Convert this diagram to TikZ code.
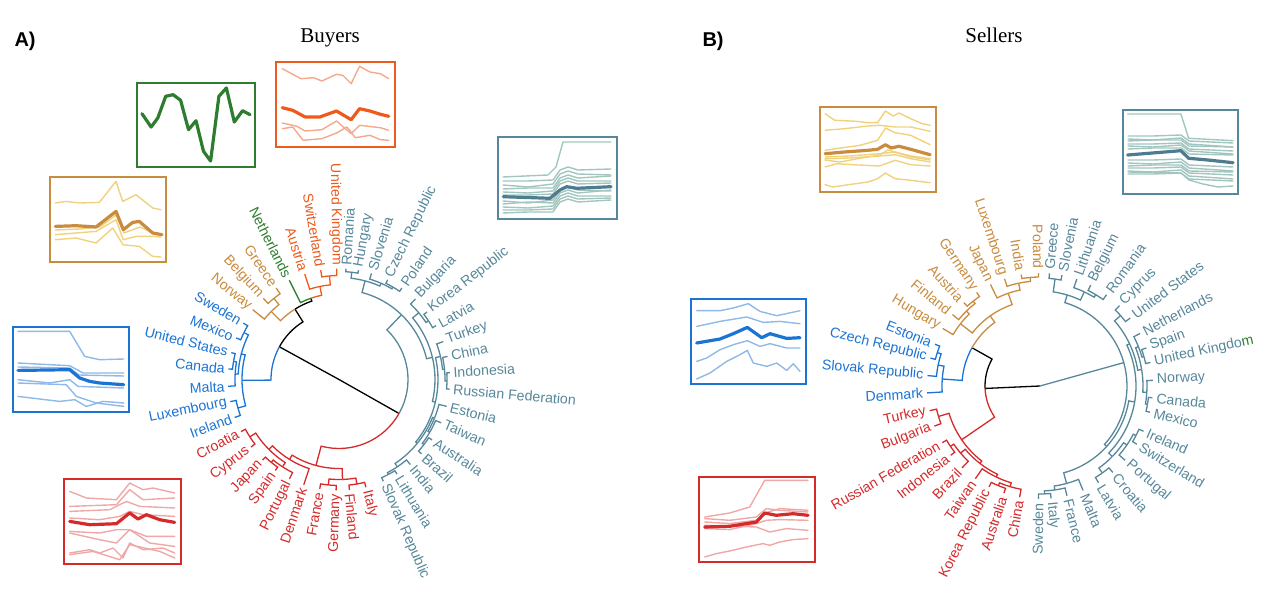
\documentclass[tikz,border=0pt]{standalone}
\usepackage{fontspec}
\setmainfont{Liberation Serif}
\setsansfont{Liberation Sans}
\definecolor{cteal}{HTML}{56879A}
\definecolor{ctealdk}{HTML}{4E7B90}
\definecolor{cteallt}{HTML}{A2C6BF}
\definecolor{cred}{HTML}{D42A2A}
\definecolor{credlt}{HTML}{EFA7A7}
\definecolor{cblue}{HTML}{1B74D4}
\definecolor{cbluelt}{HTML}{8EB9E8}
\definecolor{ctan}{HTML}{C98B3E}
\definecolor{ctanlt}{HTML}{F1D27C}
\definecolor{corange}{HTML}{EE5A1C}
\definecolor{corangelt}{HTML}{F5A88B}
\definecolor{cgreen}{HTML}{2E7D2E}
\tikzset{
  lnk/.style={line width=1.3pt},
  lbl/.style={font=\sffamily\fontsize{14.2}{14.2}\selectfont, inner sep=0.5pt},
  frame/.style={line width=2pt},
  ln/.style={line width=1.4pt, line join=round, line cap=round},
  mainln/.style={line width=3.2pt, line join=round, line cap=round},
}
\newcommand\lk[5]{\draw[lnk,#1] (#3:#2) arc[start angle=#3,end angle=#4,radius=#2] -- (#4:#5);}
\newcommand\nd[4]{\foreach \ac/\rc in {#4}{\lk{#1}{#2}{#3}{\ac}{\rc}}}
\newcounter{lb}
\newcommand\lab[3]{\stepcounter{lb}\pgfmathtruncatemacro\side{cos(#1)>0}%
  \ifnum\side=1 \node[lbl,text=#2,rotate=#1,anchor=west] (lb\thelb) at (#1:\RT) {#3};%
  \else \node[lbl,text=#2,rotate=#1+180,anchor=east] (lb\thelb) at (#1:\RT) {#3};\fi}
\newcommand\inset[6]{%
  \begin{scope}[shift={(#1,590-#2)},yscale=-1]
  #6
  \draw[frame,#5] (0,0) rectangle (#3,#4);
  \end{scope}}
\begin{document}
\begin{tikzpicture}[x=1pt,y=1pt]
\useasboundingbox (0,0) rectangle (1283,590);
% titles
\node[font=\fontsize{21}{21}\selectfont,anchor=base] (tA) at (330,547) {Buyers};
\node[font=\fontsize{21}{21}\selectfont,anchor=base] (tB) at (994,547) {Sellers};
\node[font=\sffamily\bfseries\fontsize{20}{20}\selectfont,anchor=base west] (pA) at (11,543) {A)};
\node[font=\sffamily\bfseries\fontsize{20}{20}\selectfont,anchor=base west] (pB) at (699,543) {B)};

% ================= LEFT TREE =================
\begin{scope}[shift={(339,210.5)}]
\def\RL{111}\def\RT{114}
\draw[lnk,black] (151.25:68) -- (0,0) -- (-29.5:69);
\nd{black}{68}{151.25}{122/83}
\nd{cblue}{68}{151.25}{180.5/97}
\nd{ctan}{83}{122}{134.9/96}
\nd{black}{83}{122}{109.1/86}
\nd{cgreen}{86}{109.1}{116.6/\RL}
\nd{corange}{86}{109.1}{101.6/95}
\nd{corange}{95}{101.6}{108/\RL,95.25/104}
\nd{corange}{104}{95.25}{99.5/\RL,91.2/\RL}
\nd{ctan}{96}{134.9}{141/\RL,128.75/104}
\nd{ctan}{104}{128.75}{133/\RL,124.5/\RL}
\nd{cblue}{97}{180.5}{165.3/101,195.75/105}
\nd{cblue}{101}{165.3}{153.75/106,176.9/104}
\nd{cblue}{106}{153.75}{149.5/\RL,158/\RL}
\nd{cblue}{104}{176.9}{170.25/107,183.5/\RL}
\nd{cblue}{107}{170.25}{166/\RL,174.5/\RL}
\nd{cblue}{105}{195.75}{191.5/\RL,200/\RL}
\nd{cteal}{69}{-29.5}{46/90}
\nd{cred}{69}{-29.5}{-105/89}
\nd{cteal}{90}{46}{75.2/102,13.35/96}
\nd{cteal}{102}{75.2}{83.2/108,66.4/105}
\nd{cteal}{108}{83.2}{86.4/\RL,79.9/\RL}
\nd{cteal}{105}{66.4}{73/\RL,59.75/107}
\nd{cteal}{107}{59.75}{64/\RL,55.5/\RL}
\nd{cteal}{96}{13.35}{39.9/104,-13.2/99}
\nd{cteal}{104}{39.9}{46.5/\RL,33.25/107}
\nd{cteal}{107}{33.25}{37.5/\RL,29/\RL}
\nd{cteal}{99}{-13.2}{12.8/104,-39.2/101}
\nd{cteal}{104}{12.8}{20/\RL,5.6/106}
\nd{cteal}{106}{5.6}{12/\RL,-0.75/108}
\nd{cteal}{108}{-0.75}{3.5/\RL,-5/\RL}
\nd{cteal}{101}{-39.2}{-22.1/103,-56.25/105}
\nd{cteal}{103}{-22.1}{-14/\RL,-30.25/105}
\nd{cteal}{105}{-30.25}{-23/\RL,-37.5/107}
\nd{cteal}{107}{-37.5}{-33/\RL,-42/\RL}
\nd{cteal}{105}{-56.25}{-50/\RL,-62.5/107}
\nd{cteal}{107}{-62.5}{-58.5/\RL,-66.5/\RL}
\nd{cred}{89}{-105}{-121.8/94,-88/100}
\nd{cred}{94}{-121.8}{-108.5/\RL,-135.1/99}
\nd{cred}{99}{-135.1}{-122.9/104,-147.25/106}
\nd{cred}{104}{-122.9}{-116.5/\RL,-129.25/107}
\nd{cred}{107}{-129.25}{-125/\RL,-133.5/\RL}
\nd{cred}{106}{-147.25}{-142.5/\RL,-152/\RL}
\nd{cred}{100}{-88}{-95.75/106,-80.3/106}
\nd{cred}{106}{-95.75}{-100/\RL,-91.5/\RL}
\nd{cred}{106}{-80.3}{-84.6/\RL,-76/\RL}
% labels
\lab{86.4}{cteal}{Romania}
\lab{79.9}{cteal}{Hungary}
\lab{73}{cteal}{Slovenia}
\lab{64}{cteal}{Czech Republic}
\lab{55.5}{cteal}{Poland}
\lab{46.5}{cteal}{Bulgaria}
\lab{37.5}{cteal}{Korea Republic}
\lab{29}{cteal}{Latvia}
\lab{20}{cteal}{Turkey}
\lab{12}{cteal}{China}
\lab{3.5}{cteal}{Indonesia}
\lab{-5}{cteal}{Russian Federation}
\lab{-14}{cteal}{Estonia}
\lab{-23}{cteal}{Taiwan}
\lab{-33}{cteal}{Australia}
\lab{-42}{cteal}{Brazil}
\lab{-50}{cteal}{India}
\lab{-58.5}{cteal}{Lithuania}
\lab{-66.5}{cteal}{Slovak Republic}
\lab{-76}{cred}{Italy}
\lab{-84.6}{cred}{Finland}
\lab{-91.5}{cred}{Germany}
\lab{-100}{cred}{France}
\lab{-108.5}{cred}{Denmark}
\lab{-116.5}{cred}{Portugal}
\lab{-125}{cred}{Spain}
\lab{-133.5}{cred}{Japan}
\lab{-142.5}{cred}{Cyprus}
\lab{-152}{cred}{Croatia}
\lab{200}{cblue}{Ireland}
\lab{191.5}{cblue}{Luxembourg}
\lab{183.5}{cblue}{Malta}
\lab{174.5}{cblue}{Canada}
\lab{166}{cblue}{United States}
\lab{158}{cblue}{Mexico}
\lab{149.5}{cblue}{Sweden}
\lab{141}{ctan}{Norway}
\lab{133}{ctan}{Belgium}
\lab{124.5}{ctan}{Greece}
\lab{116.6}{cgreen}{Netherlands}
\lab{108}{corange}{Austria}
\lab{99.5}{corange}{Switzerland}
\lab{91.2}{corange}{United Kingdom}
\end{scope}

% ================= RIGHT TREE =================
\begin{scope}[shift={(1040,204)}]
\def\RL{113}\def\RT{116.5}
\draw[lnk,black] (182.55:55) -- (0,0);
\draw[lnk,cteal] (0,0) -- (15.6:87);
\nd{black}{55}{182.55}{150.65/78}
\nd{cred}{55}{182.55}{214.45/95}
\nd{cblue}{78}{150.65}{175.9/98}
\nd{ctan}{78}{150.65}{125.4/86}
\nd{cblue}{98}{175.9}{168.35/104,183.5/\RL}
\nd{cblue}{104}{168.35}{162/108,174.7/\RL}
\nd{cblue}{108}{162}{158.3/\RL,165.7/\RL}
\nd{ctan}{86}{125.4}{141.95/101,108.9/98}
\nd{ctan}{101}{141.95}{149.4/\RL,134.5/105}
\nd{ctan}{105}{134.5}{140.8/\RL,128.25/108}
\nd{ctan}{108}{128.25}{132.4/\RL,124.1/\RL}
\nd{ctan}{98}{108.9}{116/\RL,101.75/105}
\nd{ctan}{105}{101.75}{108.3/\RL,95.2/109}
\nd{ctan}{109}{95.2}{99.6/\RL,90.8/\RL}
\nd{cred}{95}{214.45}{196.7/106,232.2/98}
\nd{cred}{106}{196.7}{192.6/\RL,200.8/\RL}
\nd{cred}{98}{232.2}{220.2/104,244.3/101}
\nd{cred}{104}{220.2}{214/108,226.4/\RL}
\nd{cred}{108}{214}{210.1/\RL,217.8/\RL}
\nd{cred}{101}{244.3}{235.1/\RL,253.45/105}
\nd{cred}{105}{253.45}{247.3/108,259.6/\RL}
\nd{cred}{108}{247.3}{243.2/\RL,251.4/\RL}
\nd{cteal}{87}{15.6}{73.4/95,-42.15/90}
\nd{cteal}{95}{73.4}{82/108,64.8/104}
\nd{cteal}{108}{82}{85.2/\RL,78.8/\RL}
\nd{cteal}{104}{64.8}{71/\RL,58.6/107}
\nd{cteal}{107}{58.6}{63.3/\RL,53.9/\RL}
\nd{cteal}{90}{-42.15}{-74.75/101,-9.55/96}
\nd{cteal}{101}{-74.75}{-81.9/105,-67.6/\RL}
\nd{cteal}{105}{-81.9}{-87.6/108,-76.2/\RL}
\nd{cteal}{108}{-87.6}{-90.8/\RL,-84.4/\RL}
\nd{cteal}{96}{-9.55}{-44.3/101,25.2/99}
\nd{cteal}{101}{-44.3}{-54.35/107,-34.2/105}
\nd{cteal}{107}{-54.35}{-58.8/\RL,-49.9/\RL}
\nd{cteal}{105}{-34.2}{-41.1/\RL,-27.3/108}
\nd{cteal}{108}{-27.3}{-31/\RL,-23.6/\RL}
\nd{cteal}{99}{25.2}{41.15/107,9.2/103}
\nd{cteal}{107}{41.15}{45.3/\RL,37/\RL}
\nd{cteal}{103}{9.2}{21.8/106,-3.4/107}
\nd{cteal}{106}{21.8}{15.85/108,27.7/\RL}
\nd{cteal}{108}{15.85}{12/\RL,19.7/\RL}
\nd{cteal}{107}{-3.4}{2.9/\RL,-9.7/109}
\nd{cteal}{109}{-9.7}{-6/\RL,-13.4/\RL}
% labels
\lab{90.8}{ctan}{Poland}
\lab{99.6}{ctan}{India}
\lab{108.3}{ctan}{Luxembourg}
\lab{116}{ctan}{Japan}
\lab{124.1}{ctan}{Germany}
\lab{132.4}{ctan}{Austria}
\lab{140.8}{ctan}{Finland}
\lab{149.4}{ctan}{Hungary}
\lab{158.3}{cblue}{Estonia}
\lab{165.7}{cblue}{Czech Republic}
\lab{174.7}{cblue}{Slovak Republic}
\lab{183.5}{cblue}{Denmark}
\lab{192.6}{cred}{Turkey}
\lab{200.8}{cred}{Bulgaria}
\lab{210.1}{cred}{Russian Federation}
\lab{217.8}{cred}{Indonesia}
\lab{226.4}{cred}{Brazil}
\lab{235.1}{cred}{Taiwan}
\lab{243.2}{cred}{Korea Republic}
\lab{251.4}{cred}{Australia}
\lab{259.6}{cred}{China}
\lab{-90.8}{cteal}{Sweden}
\lab{-84.4}{cteal}{Italy}
\lab{-76.2}{cteal}{France}
\lab{-67.6}{cteal}{Malta}
\lab{-58.8}{cteal}{Latvia}
\lab{-49.9}{cteal}{Croatia}
\lab{-41.1}{cteal}{Portugal}
\lab{-31}{cteal}{Switzerland}
\lab{-23.6}{cteal}{Ireland}
\lab{-13.4}{cteal}{Mexico}
\lab{-6}{cteal}{Canada}
\lab{2.9}{cteal}{Norway}
\lab{12}{cteal}{United Kingdo{\color{cgreen}m}}
\lab{19.7}{cteal}{Spain}
\lab{27.7}{cteal}{Netherlands}
\lab{37}{cteal}{United States}
\lab{45.3}{cteal}{Cyprus}
\lab{53.9}{cteal}{Romania}
\lab{63.3}{cteal}{Belgium}
\lab{71}{cteal}{Lithuania}
\lab{78.8}{cteal}{Slovenia}
\lab{85.2}{cteal}{Greece}
\end{scope}

% ================= INSETS LEFT =================
\inset{50}{177}{116}{85}{ctan}{
 \draw[ln,ctanlt] (5.3,26)--(16,24.4)--(29.3,26)--(49.3,25.4)--(66,4.4)--(72.7,24.4)--(86,17.7)--(102.7,31)--(111,32.7);
 \draw[ln,ctanlt] (5.3,57.7)--(26,56)--(46,54.4)--(66,42.7)--(73.3,62.7)--(86,59.4)--(102.7,59.4)--(111,60);
 \draw[ln,ctanlt] (5.3,62.7)--(26,61)--(46,66)--(62.7,51)--(73,67.7)--(89.3,69.4)--(102.7,79.4)--(111,80);
 \draw[ln,ctanlt] (5.3,53)--(30,52)--(50,50)--(66,38)--(74,56)--(90,50)--(103,56)--(111,58);
 \draw[mainln,ctan] (5.3,49.4)--(26,48.7)--(46,50)--(66,34.4)--(73.3,52.7)--(82.7,45.4)--(89.3,44.4)--(102.7,56)--(112,57.7);
}
\inset{137}{83}{118}{84}{cgreen}{
 \draw[mainln,cgreen] (5,30.7)--(14.1,44)--(20.8,35)--(28.7,13.3)--(36.1,11.7)--(43.6,17.3)--(51.5,46.7)--(59,37.7)--(66.5,68.3)--(73.6,78)--(81.9,13.3)--(89.4,5)--(97.3,39)--(105.6,27.7)--(113,31.7);
}
\inset{276}{62}{119}{85}{corange}{
 \draw[ln,corangelt] (6.3,6.7)--(25,16.7)--(37.6,15.7)--(45.9,19)--(60.5,12.3)--(66.8,13.3)--(75.2,21.7)--(83.5,4.3)--(93.9,10)--(104.4,11.7)--(112.7,16.7);
 \draw[ln,corangelt] (6.3,61)--(20.9,64.3)--(29.2,69)--(45.9,67.7)--(60.5,59)--(75.2,71.7)--(83.5,63.3)--(104.4,65.7)--(112.7,68.3);
 \draw[ln,corangelt] (6.3,66.7)--(16.7,65)--(27.1,78.3)--(45.9,76.7)--(60.5,71)--(71,65)--(79.3,75.7)--(93.9,73.3)--(104.4,77.7)--(112.7,78.3);
 \draw[mainln,corange] (6.3,45.7)--(16.7,48.3)--(29.2,55)--(43.8,55)--(60.5,49)--(75.2,57.7)--(83.5,46.7)--(93.9,49)--(104.4,52.3)--(112.7,54.3);
}
\inset{498}{137}{119}{82}{cteal}{
 \draw[ln,cteallt] (5,40)--(50,38)--(58,30)--(65,5)--(113,5);
 \foreach \y/\d in {44/0,48/2,52/-1,55/1,58/0,64/2,67/-2,70/1,73/0,76/-1}{
   \draw[ln,cteallt] (5,\y)--(30,\y+\d)--(55,\y-1)--(62,\y-11)--(70,\y-14)--(80,\y-11)--(113,\y-12+\d);}
 \draw[mainln,ctealdk] (5.3,59.7)--(52,61.3)--(62,53)--(68.7,49.7)--(78.7,51.3)--(113,49.7);
}
\inset{13}{327}{116}{85}{cblue}{
 \draw[ln,cbluelt] (5,4.4)--(56.7,4.4)--(71.7,29.4)--(86.7,32.7)--(110.7,32);
 \draw[ln,cbluelt] (5,36)--(56.7,38.7)--(70,46)--(110.7,46);
 \draw[ln,cbluelt] (5,52.7)--(36.7,56)--(56.7,52.7)--(65,59.4)--(110.7,61);
 \draw[ln,cbluelt] (5,69.4)--(46.7,74.4)--(61.7,72.7)--(73.3,79.4)--(90,74.4)--(110.7,76);
 \draw[ln,cbluelt] (5,56)--(53.3,57.7)--(63.3,69.4)--(83.3,76)--(110.7,79.4);
 \draw[ln,cbluelt] (5,40)--(56.7,41)--(66,48)--(110.7,49);
 \draw[mainln,cblue] (5,43.4)--(56.7,42.7)--(66.7,51)--(76.7,54.4)--(86.7,56)--(110.7,57.7);
}
\inset{64}{479}{117}{85}{cred}{
 \draw[ln,credlt] (5.7,12.4)--(22.4,19)--(52.4,20.7)--(65.7,4)--(79,10.7)--(89,9)--(110.7,14);
 \draw[ln,credlt] (5.7,27.4)--(52.4,25.7)--(65.7,10.7)--(79,20.7)--(110.7,19);
 \draw[ln,credlt] (5.7,32.4)--(45.7,30.7)--(62.4,22.4)--(75.7,27.4)--(110.7,29);
 \draw[ln,credlt] (5.7,39)--(35.7,40.7)--(55.7,37.4)--(65.7,32.4)--(79,35.7)--(110.7,37.4);
 \draw[ln,credlt] (5.7,52.4)--(35.7,54)--(52.4,50.7)--(65.7,50.7)--(82.4,57.4)--(110.7,57.4);
 \draw[ln,credlt] (5.7,54)--(35.7,60.7)--(52.4,64)--(65.7,50.7)--(85.7,64)--(110.7,67.4);
 \draw[ln,credlt] (5.7,74)--(25.7,70.7)--(35.7,74)--(49,69)--(59,79)--(65.7,64)--(79,70.7)--(99,69)--(110.7,74);
 \draw[ln,credlt] (5.7,75.7)--(29,72.4)--(55.7,80.7)--(65.7,65.7)--(95.7,72.4)--(110.7,79);
 \draw[mainln,cred] (5.7,42.4)--(25.7,45.7)--(52.4,44.7)--(65.7,34)--(74,40)--(82.4,35.7)--(95.7,40.7)--(110.7,43.4);
}

% ================= INSETS RIGHT =================
\inset{820}{107}{116}{85}{ctan}{
 \draw[ln,ctanlt] (5.1,6.7)--(14.8,13.3)--(36.2,14.3)--(47.9,15.7)--(57.6,15.7)--(65.4,4)--(73.2,9)--(79,6)--(90.7,11.7)--(102.3,16.7)--(110.1,18.3);
 \draw[ln,ctanlt] (5.1,23.3)--(24.5,21.7)--(47.9,19)--(59.5,18.3)--(75.1,20)--(90.7,20)--(110.1,24.3);
 \draw[ln,ctanlt] (5.1,43.3)--(20.6,41)--(40.1,38.3)--(57.6,33.3)--(65.4,21)--(75.1,25.7)--(90.7,28.3)--(110.1,37.7);
 \draw[ln,ctanlt] (5.1,50)--(30,49)--(59.5,46.7)--(75.1,45)--(90.7,49)--(110.1,51.7);
 \draw[ln,ctanlt] (5.1,51.7)--(30,51)--(59.5,49)--(75.1,47.7)--(90.7,51.7)--(110.1,55);
 \draw[ln,ctanlt] (5.1,60)--(16.7,56.7)--(32.3,57.7)--(59.5,59)--(75.1,53.3)--(90.7,57.7)--(110.1,59);
 \draw[ln,ctanlt] (5.1,53)--(20,55)--(36,52)--(59.5,48)--(68,43)--(90.7,50)--(110.1,53);
 \draw[ln,ctanlt] (5.1,77.7)--(12.8,80)--(28.4,77.7)--(47.9,75)--(57.6,71.7)--(65.4,66)--(75.1,71.7)--(90.7,73.3)--(110.1,75.7);
 \draw[mainln,ctan] (5.1,46.7)--(24.5,45)--(47.9,43.3)--(57.6,42.3)--(65.4,37.7)--(71.2,41)--(79,39.3)--(90.7,42.3)--(110.1,47.7);
}
\inset{1123}{110}{115}{84}{cteal}{
 \draw[ln,cteallt] (4.6,4)--(57.9,4)--(65.6,28.3)--(110,30.7);
 \foreach \y/\d in {26/0,29/1,31/-1,34/0,36/1,39/-1,50/0,53/1,56/-1,58/0,61/1,64/0}{
   \draw[ln,cteallt] (5,\y)--(30,\y+\d)--(58,\y-1)--(66,\y+5)--(110,\y+7+\d);}
 \draw[ln,cteallt] (5,62)--(58,63)--(66,70)--(80,74)--(95,77)--(110,76);
 \draw[mainln,ctealdk] (4.6,45)--(57.9,40.7)--(65.6,48.3)--(84.9,50)--(110,52.7);
}
\inset{691}{299}{115}{85}{cblue}{
 \draw[ln,cbluelt] (5.7,11.7)--(29,11.7)--(42.3,9)--(57.3,4.7)--(69,12.4)--(85.7,16.7)--(109,11.7);
 \draw[ln,cbluelt] (5.7,27.4)--(29,22.4)--(55.7,18)--(72.3,23.4)--(89,22.4)--(109,24.7);
 \draw[ln,cbluelt] (5.7,62.4)--(15.7,59)--(29,50.7)--(42.3,45.7)--(56.3,41.7)--(69,47.4)--(79,44.7)--(95.7,49)--(109,49);
 \draw[ln,cbluelt] (5.7,80)--(19,74)--(35.7,62.4)--(49,55.7)--(56.3,51.4)--(62.3,64)--(75.7,67.4)--(85.7,64)--(95.7,71.4)--(102.3,64.7)--(109,72.4);
 \draw[mainln,cblue] (5.7,44)--(29,40)--(42.3,34.7)--(56.3,28.4)--(70.7,38.7)--(79,34.7)--(95.7,39.4)--(109,38.7);
}
\inset{699}{477}{116}{85}{cred}{
 \draw[ln,credlt] (5.7,40)--(30.7,36)--(50.7,30)--(65.7,3.3)--(109,3.3);
 \draw[ln,credlt] (5.7,41.6)--(30.7,43.3)--(57.3,40)--(67.3,31.6)--(80.7,33.3)--(109,35);
 \draw[ln,credlt] (5.7,45)--(30.7,46.6)--(57.3,43.3)--(64,36.6)--(80.7,31.6)--(109,33.3);
 \draw[ln,credlt] (5.7,51.6)--(30.7,52.6)--(57.3,46.6)--(67.3,43.3)--(80.7,42.6)--(109,43.3);
 \draw[ln,credlt] (5.7,48.3)--(57.3,50)--(70.7,55)--(87.3,51.6)--(109,53.3);
 \draw[ln,credlt] (5.7,80)--(17.3,76.6)--(30.7,74)--(47.3,70)--(64,66.6)--(70.7,68.3)--(80.7,65)--(94,62.6)--(109,61.6);
 \draw[mainln,cred] (5.7,50)--(30.7,49.3)--(57.3,45)--(65.7,36)--(77.3,38.3)--(94,36.7)--(109,38.3);
}
\end{tikzpicture}
\end{document}
